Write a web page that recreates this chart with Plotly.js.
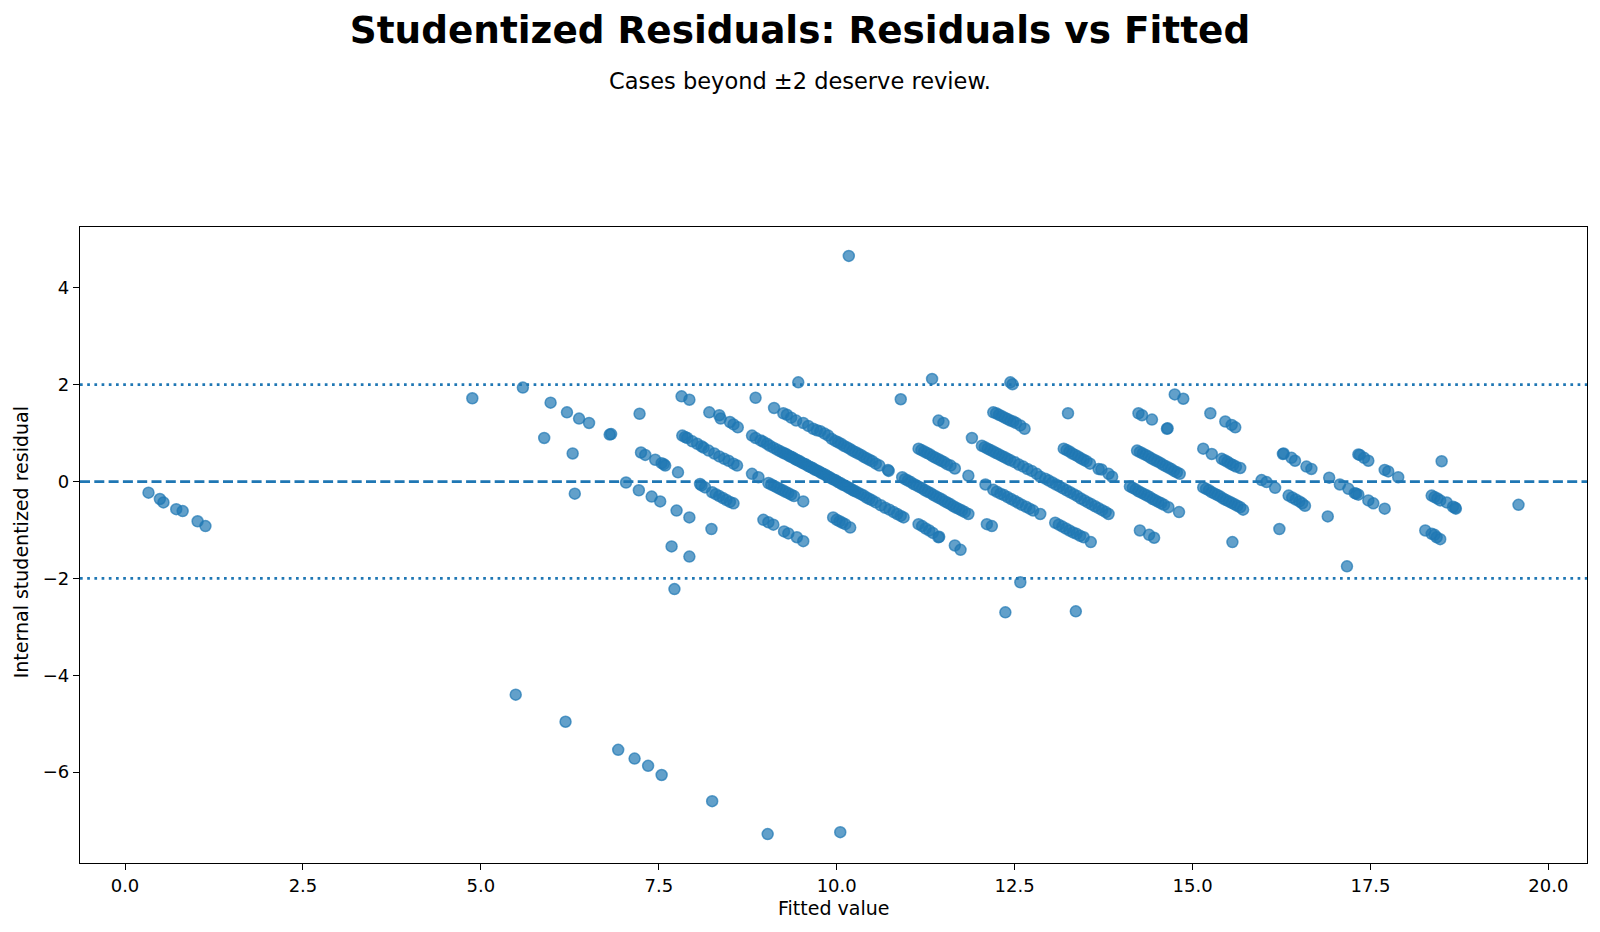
<!DOCTYPE html>
<html>
<head>
<meta charset="utf-8">
<script src="https://cdn.plot.ly/plotly-3.0.1.min.js"></script>
<style>html,body{margin:0;padding:0;background:#fff;}#chart{width:1600px;height:932px;}</style>
</head>
<body>
<div id="chart"></div>
<script>
// ---- data: [fitted value, internal studentized residual] ----
const lowFitted = [[0.33,-0.23],[0.49,-0.36],[0.54,-0.43],[0.72,-0.57],[0.81,-0.61],[1.02,-0.82],[1.13,-0.92]];
const outliers = [[10.17,4.66],[5.49,-4.40],[6.19,-4.96],[6.93,-5.54],[7.16,-5.72],[7.35,-5.87],[7.54,-6.06],[8.25,-6.60],[9.03,-7.28],[10.05,-7.24],[7.72,-2.22],[12.58,-2.08],[12.37,-2.70],[13.36,-2.68],[17.17,-1.75]];
const fitted5to8 = [[4.88,1.72],[5.59,1.94],[5.98,1.63],[5.89,0.90],[6.21,1.43],[6.38,1.30],[6.52,1.21],[6.29,0.58],[6.32,-0.25],[6.81,0.97],[6.83,0.98],[7.04,-0.02],[7.23,1.40],[7.25,0.60],[7.22,-0.18],[7.31,0.55],[7.45,0.45],[7.54,0.38],[7.57,0.36],[7.59,0.33],[7.77,0.19],[7.40,-0.31],[7.52,-0.41],[7.75,-0.60],[7.93,-0.74],[8.24,-0.98],[7.68,-1.34],[7.93,-1.55],[7.82,1.76],[7.93,1.69],[8.21,1.43],[8.35,1.37],[8.37,1.30],[8.50,1.23],[8.55,1.18],[8.61,1.12]];
const fitted8 = [[7.83,0.95],[7.87,0.92],[7.90,0.90],[7.97,0.83],[8.04,0.78],[8.10,0.73],[8.13,0.70],[8.20,0.64],[8.28,0.58],[8.35,0.52],[8.42,0.47],[8.48,0.43],[8.55,0.37],[8.60,0.33],
  [8.08,-0.05],[8.10,-0.08],[8.15,-0.12],[8.25,-0.22],[8.30,-0.26],[8.35,-0.30],[8.40,-0.34],[8.45,-0.38],[8.50,-0.42],[8.55,-0.45]];
const fitted9upper = [[8.86,1.73],[9.46,2.05],[9.12,1.52],[9.25,1.41],[9.30,1.38],[9.36,1.32],[9.43,1.26],[9.53,1.21],[9.60,1.15],[9.67,1.09],[9.72,1.06],[9.77,1.04],[9.83,0.99],[9.88,0.95],[9.93,0.88],[9.98,0.84],[10.02,0.81],[10.06,0.78],[10.10,0.74],[10.14,0.71],[10.18,0.68],[10.22,0.64],[10.26,0.61],[10.30,0.58],[10.34,0.55],[10.38,0.51],[10.42,0.48],[10.46,0.45],[10.50,0.42],[10.55,0.37],[10.60,0.33],[10.72,0.24],[10.73,0.22]];
const fitted9middle = [[8.81,0.95],[8.86,0.90],[8.93,0.85],[8.97,0.82],[9.02,0.78],[9.06,0.74],[9.11,0.70],[9.16,0.66],[9.20,0.63],[9.24,0.60],[9.27,0.58],[9.30,0.56],[9.33,0.53],[9.36,0.51],[9.39,0.49],[9.42,0.46],[9.45,0.44],[9.48,0.42],[9.51,0.39],[9.54,0.37],[9.57,0.35],[9.60,0.32],[9.63,0.30],[9.66,0.28],[9.69,0.25],[9.72,0.23],[9.75,0.21],[9.78,0.18],[9.81,0.16],[9.84,0.14],[9.87,0.11],[9.90,0.09],[9.93,0.06],[9.96,0.04],[9.99,0.02],[10.02,-0.01],[10.05,-0.03],[10.08,-0.06],[10.11,-0.08],[10.14,-0.10],[10.17,-0.13],[10.20,-0.15],[10.23,-0.18],[10.26,-0.20],[10.30,-0.23],[10.34,-0.26],[10.38,-0.29],[10.42,-0.33],[10.46,-0.36],[10.50,-0.39],[10.55,-0.43],[10.62,-0.49],[10.68,-0.54],[10.74,-0.58],[10.80,-0.63],[10.85,-0.67],[10.90,-0.71],[10.94,-0.74]];
const fitted9lower = [[8.81,0.16],[8.90,0.09],[9.04,-0.03],[9.08,-0.06],[9.12,-0.09],[9.16,-0.12],[9.20,-0.15],[9.24,-0.18],[9.28,-0.21],[9.32,-0.24],[9.36,-0.27],[9.40,-0.30],[9.53,-0.41],
  [8.97,-0.79],[9.04,-0.84],[9.11,-0.89],[9.26,-1.03],[9.32,-1.07],[9.44,-1.15],[9.53,-1.23],
  [9.95,-0.74],[10.00,-0.79],[10.04,-0.82],[10.08,-0.85],[10.12,-0.88],[10.19,-0.95]];
const fitted11to13 = [[11.34,2.12],[12.44,2.05],[12.47,2.01],[10.90,1.70],[11.43,1.26],[11.50,1.21],[11.90,0.90],
  [12.20,1.43],[12.24,1.41],[12.28,1.38],[12.32,1.35],[12.36,1.32],[12.40,1.29],[12.44,1.26],[12.48,1.24],[12.52,1.21],[12.58,1.16],[12.64,1.09],
  [11.15,0.68],[11.19,0.65],[11.23,0.62],[11.27,0.59],[11.31,0.56],[11.35,0.52],[11.39,0.49],[11.43,0.46],[11.47,0.43],[11.51,0.40],[11.55,0.36],[11.60,0.33],[11.66,0.27],[11.85,0.12],
  [12.04,0.74],[12.08,0.71],[12.12,0.68],[12.16,0.65],[12.20,0.62],[12.24,0.59],[12.28,0.56],[12.32,0.53],[12.36,0.50],[12.40,0.47],[12.44,0.44],[12.50,0.40],[12.56,0.35],[12.62,0.31],[12.68,0.26],[12.74,0.22],[12.81,0.16],[12.86,0.10],
  [10.92,0.09],[10.96,0.05],[11.00,0.02],[11.04,-0.01],[11.08,-0.05],[11.12,-0.08],[11.16,-0.11],[11.20,-0.14],[11.24,-0.18],[11.28,-0.21],[11.32,-0.24],[11.36,-0.28],[11.40,-0.31],[11.44,-0.34],[11.48,-0.37],[11.52,-0.41],[11.56,-0.44],[11.60,-0.47],[11.64,-0.51],[11.68,-0.54],[11.72,-0.57],[11.76,-0.60],[11.80,-0.63],[11.85,-0.67],
  [11.15,-0.88],[11.20,-0.92],[11.25,-0.97],[11.30,-1.01],[11.35,-1.06],[11.43,-1.15],[11.44,-1.14],[11.66,-1.32],[11.74,-1.41],
  [12.09,-0.06],[12.20,-0.17],[12.25,-0.21],[12.30,-0.25],[12.35,-0.28],[12.40,-0.32],[12.45,-0.36],[12.50,-0.40],[12.55,-0.44],[12.60,-0.48],[12.66,-0.52],[12.71,-0.56],[12.76,-0.60],[12.86,-0.67],
  [12.11,-0.88],[12.18,-0.92]];
const fitted13to16 = [[14.75,1.80],[14.87,1.71],[13.25,1.41],[14.24,1.41],[14.29,1.37],[14.43,1.28],[14.64,1.09],[14.65,1.10],[15.25,1.41],[15.46,1.24],[15.55,1.17],[15.60,1.12],
  [13.19,0.68],[13.23,0.65],[13.27,0.62],[13.31,0.58],[13.35,0.55],[13.39,0.52],[13.43,0.48],[13.47,0.45],[13.51,0.42],[13.56,0.37],[13.68,0.26],[13.72,0.25],[13.82,0.16],[13.87,0.10],
  [14.22,0.64],[14.26,0.61],[14.30,0.58],[14.34,0.55],[14.38,0.52],[14.42,0.48],[14.46,0.45],[14.50,0.42],[14.54,0.39],[14.58,0.35],[14.62,0.32],[14.66,0.29],[14.70,0.26],[14.74,0.22],[14.78,0.19],[14.82,0.16],
  [15.15,0.68],[15.27,0.57],[15.41,0.47],[15.45,0.44],[15.49,0.41],[15.53,0.37],[15.57,0.34],[15.61,0.31],[15.67,0.28],
  [12.93,0.06],[12.98,0.02],[13.03,-0.02],[13.08,-0.06],[13.13,-0.10],[13.18,-0.14],[13.23,-0.18],[13.28,-0.22],[13.33,-0.26],[13.38,-0.30],[13.43,-0.35],[13.48,-0.39],[13.53,-0.43],[13.58,-0.47],[13.63,-0.51],[13.68,-0.55],[13.73,-0.59],[13.78,-0.63],[13.82,-0.67],
  [14.12,-0.10],[14.16,-0.13],[14.20,-0.16],[14.24,-0.20],[14.28,-0.23],[14.32,-0.26],[14.36,-0.29],[14.40,-0.32],[14.44,-0.36],[14.48,-0.39],[14.52,-0.42],[14.56,-0.45],[14.60,-0.48],[14.66,-0.53],[14.81,-0.63],
  [15.15,-0.12],[15.19,-0.15],[15.23,-0.18],[15.27,-0.22],[15.31,-0.25],[15.35,-0.28],[15.39,-0.31],[15.43,-0.35],[15.47,-0.38],[15.51,-0.41],[15.55,-0.44],[15.59,-0.47],[15.63,-0.50],[15.67,-0.53],[15.71,-0.58],
  [13.07,-0.85],[13.12,-0.89],[13.17,-0.93],[13.22,-0.97],[13.27,-1.01],[13.32,-1.05],[13.37,-1.08],[13.42,-1.12],[13.47,-1.15],[13.57,-1.25],
  [14.26,-1.01],[14.39,-1.10],[14.46,-1.16],[15.56,-1.25]];
const fitted16to20 = [[16.27,0.57],[16.28,0.58],[16.39,0.49],[16.44,0.43],[16.60,0.31],[16.67,0.26],
  [17.33,0.56],[17.35,0.55],[17.41,0.49],[17.47,0.43],[17.70,0.24],[17.75,0.21],[17.89,0.09],[16.92,0.08],[18.50,0.42],
  [15.97,0.03],[16.04,-0.01],[16.16,-0.13],
  [16.35,-0.29],[16.40,-0.33],[16.45,-0.37],[16.50,-0.41],[16.54,-0.45],[16.58,-0.50],
  [17.07,-0.06],[17.19,-0.15],[17.28,-0.24],[17.30,-0.25],[17.33,-0.27],[17.47,-0.39],[17.54,-0.45],[17.70,-0.56],
  [16.90,-0.72],[16.22,-0.98],
  [18.36,-0.29],[18.40,-0.32],[18.44,-0.35],[18.48,-0.39],[18.57,-0.43],[18.66,-0.52],[18.69,-0.54],[18.70,-0.56],
  [18.27,-1.01],[18.36,-1.08],[18.40,-1.10],[18.43,-1.15],[18.48,-1.19],
  [19.58,-0.48]];
const reviewThresholds = [2, -2];
const zeroLine = 0;
const xTickStep = 2.5;
const yTickStep = 2;

const allPoints = [].concat(lowFitted, outliers, fitted5to8, fitted8, fitted9upper, fitted9middle, fitted9lower, fitted11to13, fitted13to16, fitted16to20);
const fitted = allPoints.map(p => p[0]);
const resid = allPoints.map(p => p[1]);

const blue = '#1f77b4';
const font = 'DejaVu Sans, Liberation Sans, sans-serif';

const trace = {
  type: 'scatter', mode: 'markers', x: fitted, y: resid,
  marker: {size: 11, color: 'rgba(31,119,180,0.7)', line: {width: 1.5, color: 'rgba(31,119,180,0.7)'}},
  hoverinfo: 'x+y', showlegend: false
};

const shapes = [
  {type: 'line', xref: 'paper', x0: 0, x1: 1, yref: 'y', y0: zeroLine, y1: zeroLine, layer: 'below',
   line: {color: blue, width: 2.7, dash: '10px,4.3px'}}
].concat(reviewThresholds.map(v => ({type: 'line', xref: 'paper', x0: 0, x1: 1, yref: 'y', y0: v, y1: v, layer: 'below',
   line: {color: blue, width: 2.7, dash: '2.7px,4.5px'}})));

const xs = fitted, ys = resid;
const xmin = Math.min(...xs), xmax = Math.max(...xs), ymin = Math.min(...ys), ymax = Math.max(...ys);
const xpad = (xmax - xmin) * 0.05, ypad = (ymax - ymin) * 0.05;

const axisCommon = {
  showgrid: false, zeroline: false, showline: true, mirror: true, linecolor: '#000', linewidth: 1.3,
  ticks: 'outside', ticklen: 6, tickwidth: 1.3, tickcolor: '#000',
  tickfont: {family: font, size: 18, color: '#000'}
};

const layout = {
  width: 1600, height: 932,
  paper_bgcolor: '#fff', plot_bgcolor: '#fff',
  margin: {l: 80, r: 13, t: 227, b: 69, pad: 0},
  font: {family: font, color: '#000'},
  title: {text: '<b>Studentized Residuals: Residuals vs Fitted</b>', x: 0.5, xanchor: 'center', y: 0.968, yanchor: 'middle', yref: 'container',
          font: {family: font, size: 37.4, color: '#000'}},
  xaxis: Object.assign({}, axisCommon, {range: [xmin - xpad, xmax + xpad], tick0: 0, dtick: xTickStep, tickformat: '.1f'}),
  yaxis: Object.assign({}, axisCommon, {range: [ymin - ypad, ymax + ypad], tick0: 0, dtick: yTickStep}),
  shapes: shapes,
  annotations: [
    {text: 'Cases beyond ±2 deserve review.', xref: 'paper', yref: 'paper', x: 0.4777, y: 1.2303, xanchor: 'center', yanchor: 'middle', showarrow: false,
     font: {family: font, size: 22.5, color: '#000'}},
    {text: 'Fitted value', xref: 'paper', yref: 'paper', x: 0.5, y: -0.0713, xanchor: 'center', yanchor: 'middle', showarrow: false,
     font: {family: font, size: 19, color: '#000'}},
    {text: 'Internal studentized residual', xref: 'paper', yref: 'paper', x: -0.0395, y: 0.505, xanchor: 'center', yanchor: 'middle', textangle: -90, showarrow: false,
     font: {family: font, size: 19, color: '#000'}}
  ]
};

Plotly.newPlot('chart', [trace], layout, {displayModeBar: false, responsive: false});
</script>
</body>
</html>
